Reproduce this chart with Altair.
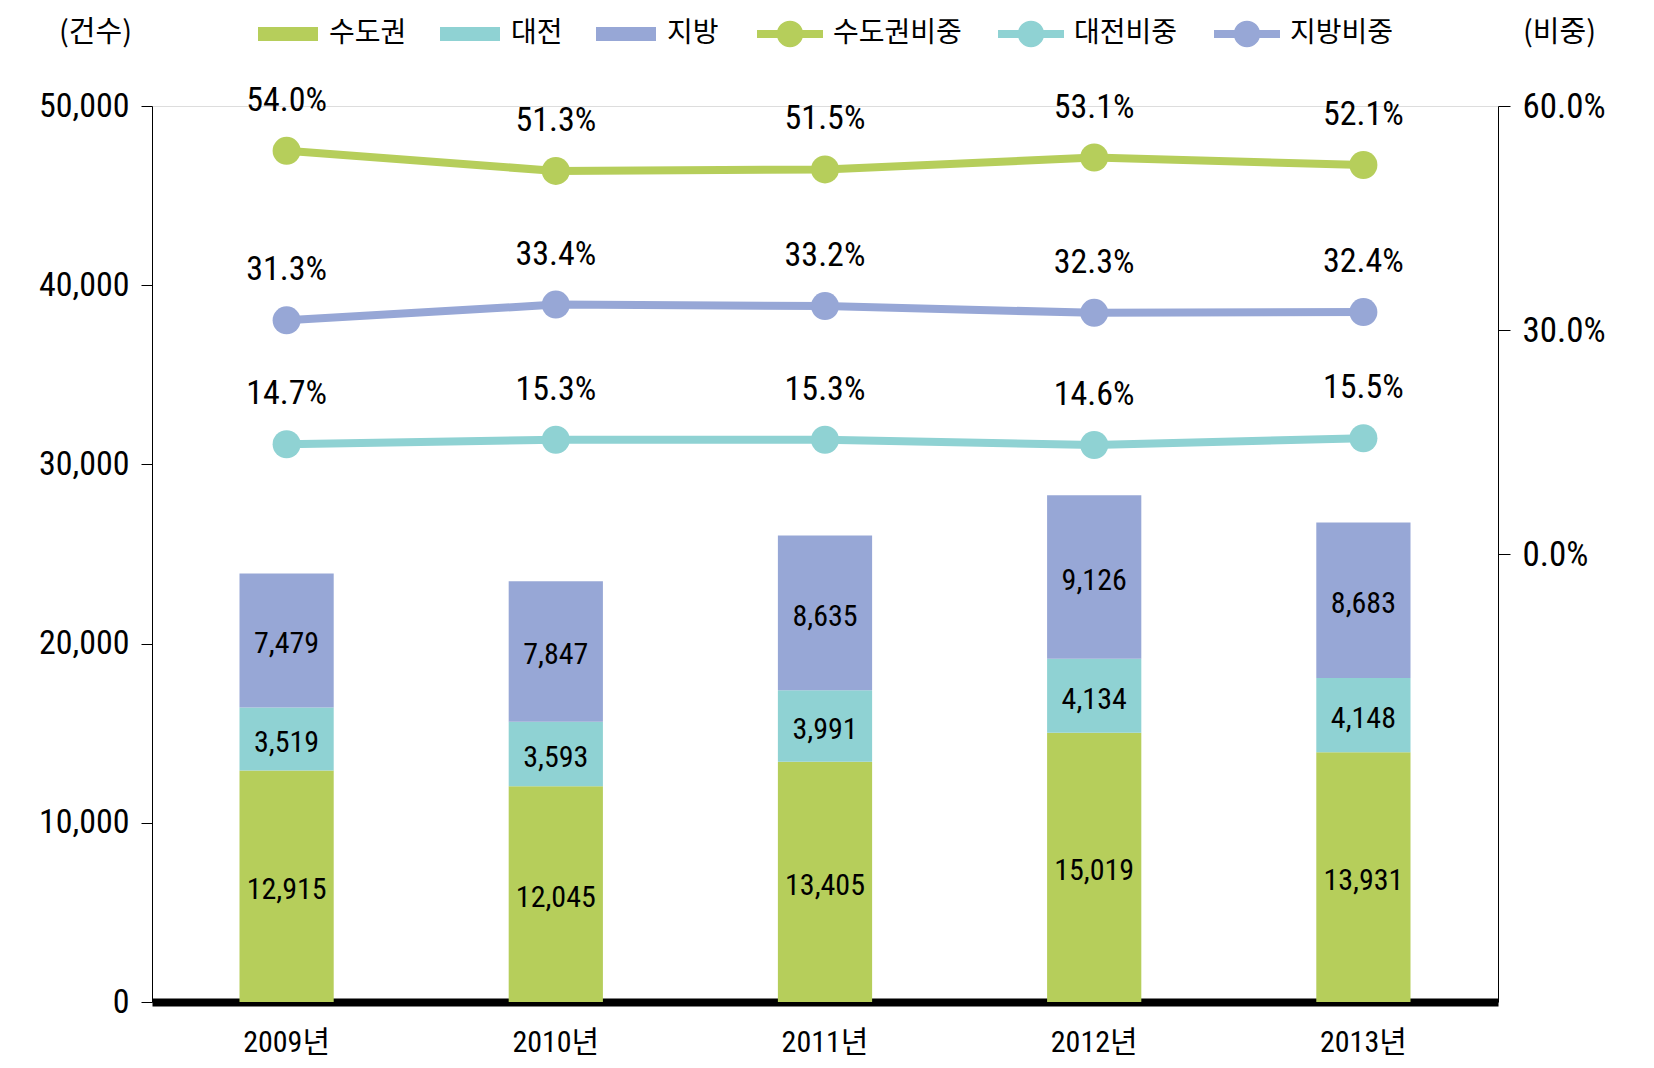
import altair as alt
import pandas as pd

years = ["2009년", "2010년", "2011년", "2012년", "2013년"]
series_bar = ["수도권", "대전", "지방"]
metro = [12915, 12045, 13405, 15019, 13931]
daejeon = [3519, 3593, 3991, 4134, 4148]
local = [7479, 7847, 8635, 9126, 8683]

series_line = ["수도권비중", "대전비중", "지방비중"]
metro_share = [54.0, 51.3, 51.5, 53.1, 52.1]
daejeon_share = [14.7, 15.3, 15.3, 14.6, 15.5]
local_share = [31.3, 33.4, 33.2, 32.3, 32.4]

bar_colors = ["#B6CE5B", "#8FD2D3", "#97A7D6"]

FONT = "Liberation Sans Narrow, Roboto Condensed, DejaVu Sans Condensed, Roboto, Noto Sans CJK KR"
KFONT = "Noto Sans CJK KR"

rows = []
for i, y in enumerate(years):
    base = 0
    for k, (name, vals) in enumerate(zip(series_bar, [metro, daejeon, local])):
        v = vals[i]
        rows.append({"year": y, "region": name, "value": v, "order": k,
                     "mid": base + v / 2})
        base += v
bars_df = pd.DataFrame(rows)

lrows = []
for name, vals in zip(series_line, [metro_share, daejeon_share, local_share]):
    for i, y in enumerate(years):
        lrows.append({"year": y, "share_series": name, "line_series": name,
                      "share": vals[i]})
line_df = pd.DataFrame(lrows)

x_scale = alt.Scale(domain=years, paddingInner=0.65, paddingOuter=0.325)
x_axis = alt.Axis(title=None, labelFont=FONT, labelFontSize=30, labelColor="black",
                  ticks=False, domainColor="black", domainWidth=8,
                  labelPadding=40, labelBaseline="middle", labelAngle=0)
x_enc = alt.X("year:N", scale=x_scale, axis=x_axis, sort=years)

y_left_scale = alt.Scale(domain=[0, 50000], nice=False)
y_left_axis = alt.Axis(orient="left", values=[0, 10000, 20000, 30000, 40000, 50000],
                       labelExpr="format(datum.value, ',')", grid=False,
                       labelFont=FONT, labelFontSize=34,
                       labelColor="black", tickSize=11, tickColor="black",
                       domainColor="black", labelPadding=12,
                       title="(건수)", titleFont=KFONT, titleFontSize=29,
                       titleFontWeight="normal", titleColor="black", titleAngle=0,
                       titleAlign="center", titleBaseline="middle",
                       titleX=-57, titleY=-74)

bars = alt.Chart(bars_df).mark_bar().encode(
    x=x_enc,
    y=alt.Y("value:Q", stack="zero", scale=y_left_scale, axis=y_left_axis),
    color=alt.Color("region:N", scale=alt.Scale(domain=series_bar, range=bar_colors),
                    legend=alt.Legend(title=None, orient="none", direction="horizontal",
                                      legendX=106, legendY=-102,
                                      symbolType="M-1,-0.23H1V0.23H-1Z",
                                      symbolSize=3600, symbolStrokeWidth=0,
                                      labelFont=KFONT, labelFontSize=28,
                                      labelColor="black", labelOffset=11,
                                      columnPadding=33)),
    order=alt.Order("order:Q"),
)

bar_text = alt.Chart(bars_df).mark_text(font=FONT, fontSize=30, color="black",
                                        baseline="middle", dy=4).encode(
    x=x_enc,
    y=alt.Y("mid:Q", scale=y_left_scale, axis=y_left_axis),
    text=alt.Text("value:Q", format=","),
)

left = alt.layer(bars, bar_text)

y_right_scale = alt.Scale(domain=[-60, 60], nice=False)
y_right_axis = alt.Axis(orient="right", values=[0, 30, 60],
                        labelExpr="format(datum.value, '.1f') + '%'",
                        grid=False, labelFont=FONT, labelFontSize=35,
                        labelColor="black", tickSize=12, tickColor="black",
                        domainColor="black", labelPadding=12,
                        title="(비중)", titleFont=KFONT, titleFontSize=29,
                        titleFontWeight="normal", titleColor="black", titleAngle=0,
                        titleAlign="center", titleBaseline="middle",
                        titleX=61, titleY=-74)

# stroke scale listed in a different order so its legend is not merged
stroke_domain = [series_line[0], series_line[2], series_line[1]]
stroke_range = [bar_colors[0], bar_colors[2], bar_colors[1]]

line = alt.Chart(line_df).mark_line(strokeWidth=8).encode(
    x=x_enc,
    y=alt.Y("share:Q", scale=y_right_scale, axis=y_right_axis),
    stroke=alt.Stroke("line_series:N",
                      scale=alt.Scale(domain=stroke_domain, range=stroke_range),
                      legend=None),
)

dot_path = ("M-1,-0.12H1V0.12H-1Z "
            "M-0.4,0A0.4,0.4 0 1,1 0.4,0A0.4,0.4 0 1,1 -0.4,0Z")

points = alt.Chart(line_df).mark_point(filled=True, shape="circle", size=784,
                                       opacity=1).encode(
    x=x_enc,
    y=alt.Y("share:Q", scale=y_right_scale, axis=y_right_axis),
    fill=alt.Fill("share_series:N",
                  scale=alt.Scale(domain=series_line, range=bar_colors),
                  legend=alt.Legend(title=None, orient="none", direction="horizontal",
                                    legendX=605, legendY=-105,
                                    symbolType=dot_path, symbolSize=4356,
                                    symbolStrokeWidth=0, symbolOpacity=1,
                                    labelFont=KFONT, labelFontSize=28,
                                    labelColor="black", labelOffset=10,
                                    columnPadding=36)),
)

pct_text = alt.Chart(line_df).transform_calculate(
    label="format(datum.share, '.1f') + '%'"
).mark_text(font=FONT, fontSize=34, color="black", baseline="middle", dy=-50).encode(
    x=x_enc,
    y=alt.Y("share:Q", scale=y_right_scale, axis=y_right_axis),
    text="label:N",
)

right = alt.layer(line, points, pct_text)

chart = alt.layer(left, right).resolve_scale(
    y="independent"
).properties(
    width=1346, height=896,
    autosize=alt.AutoSizeParams(type="none"),
    padding={"left": 144, "top": 98, "right": 112, "bottom": 58},
).configure_view(stroke=None).configure(background="white")

chart.save("out.html", embed_options={"renderer": "svg", "actions": False})
